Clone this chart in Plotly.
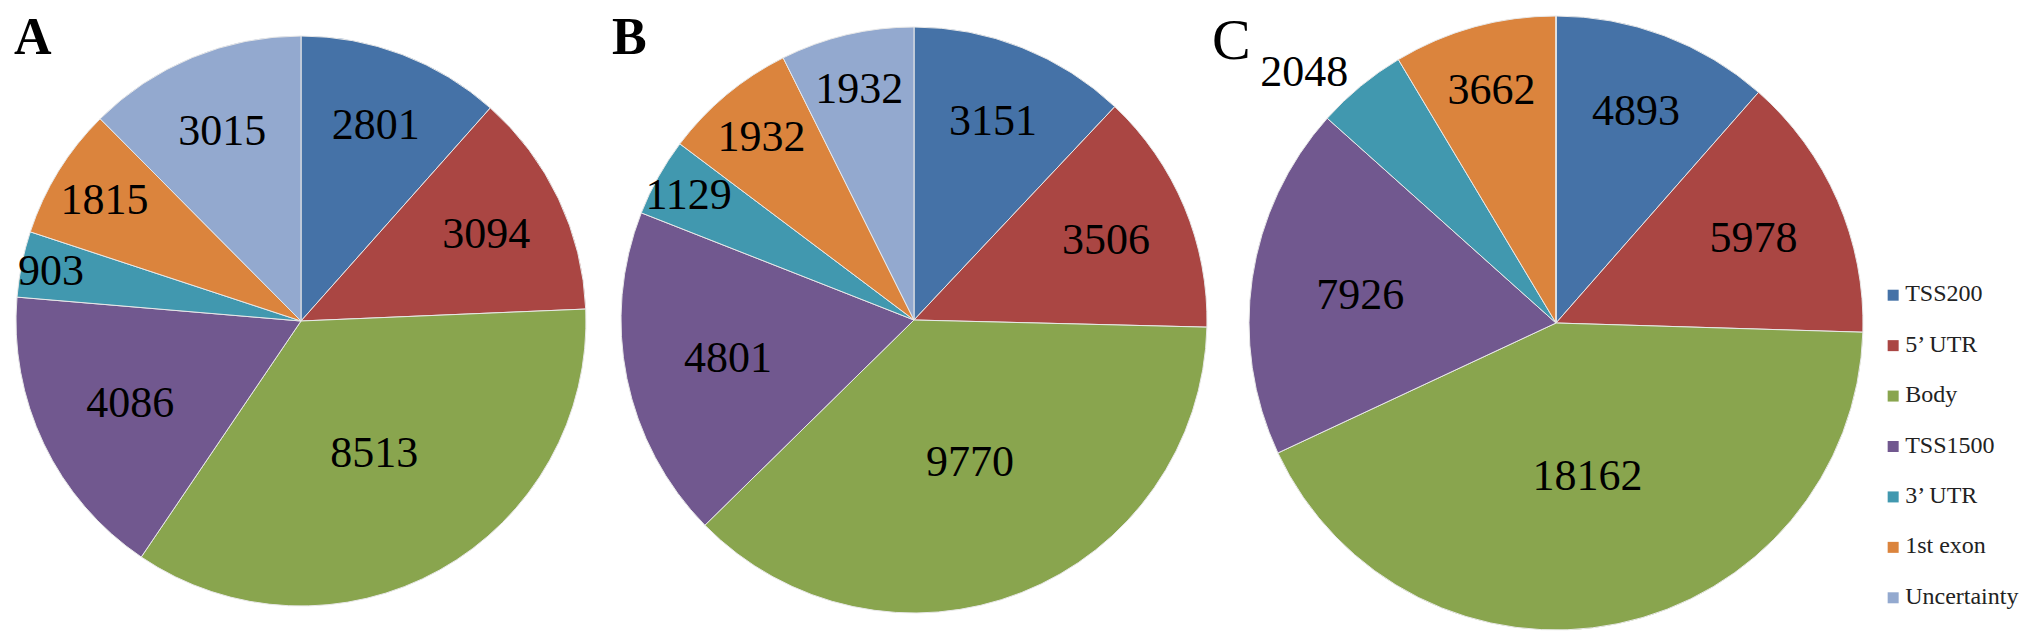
"""Genomic distribution of CpG sites per panel (A, B, C) as three pies."""
import plotly.graph_objects as go

REGIONS = ["TSS200", "5’ UTR", "Body", "TSS1500", "3’ UTR", "1st exon", "Uncertainty"]
COUNTS_A = [2801, 3094, 8513, 4086, 903, 1815, 3015]
COUNTS_B = [3151, 3506, 9770, 4801, 1129, 1932, 1932]
COUNTS_C = [4893, 5978, 18162, 7926, 2048, 3662, 0]
PANELS = ["A", "B", "C"]

COLORS = ["#4572A7", "#AA4643", "#89A54E", "#71588F", "#4198AF", "#DB843D", "#93A9CF"]
W, H = 2031, 639
SERIF = "Liberation Serif"


def dom(cx, cy, r):
    # pixel centre/radius -> paper domain
    return dict(x=[(cx - r) / W, (cx + r) / W], y=[(H - cy - r) / H, (H - cy + r) / H])


fig = go.Figure()
specs = [
    (COUNTS_A, dom(293, 313, 285), ["inside"] * 7),
    (COUNTS_B, dom(906, 312, 293), ["inside"] * 7),
    (COUNTS_C, dom(1548, 315, 307), ["inside"] * 4 + ["outside"] + ["inside"] * 2),
]
for counts, d, pos in specs:
    fig.add_trace(go.Pie(
        labels=REGIONS, values=counts, sort=False, direction="clockwise", rotation=0,
        domain=d, marker=dict(colors=COLORS, line=dict(color="#e8e8e8", width=1)),
        texttemplate=["%{value:.0f}" if v else "" for v in counts],
        textposition=pos, insidetextorientation="horizontal",
        textfont=dict(family=SERIF, size=44, color="black"), showlegend=False,
        hoverinfo="label+value"))

# legend drawn as a small categorical scatter on the right
fig.add_trace(go.Scatter(
    x=[0] * len(REGIONS), y=REGIONS, mode="markers", cliponaxis=False,
    marker=dict(symbol="square", size=11, color=COLORS),
    xaxis="x", yaxis="y", showlegend=False, hoverinfo="skip"))
fig.add_trace(go.Scatter(
    x=[0.7] * len(REGIONS), y=REGIONS, mode="text", text=REGIONS,
    textposition="middle right", cliponaxis=False,
    textfont=dict(family=SERIF, size=24, color="#222"),
    xaxis="x", yaxis="y", showlegend=False, hoverinfo="skip"))

for letter, (x, y, size, bold) in zip(PANELS, [(4, -2, 52, True), (602, -2, 52, True),
                                               (1202, -3, 58, False)]):
    fig.add_annotation(text=f"<b>{letter}</b>" if bold else letter, x=x / W, y=1 - y / H,
                       xref="paper", yref="paper", xanchor="left", yanchor="top",
                       showarrow=False, font=dict(family=SERIF, size=size, color="black"))

fig.update_layout(
    width=W, height=H, margin=dict(l=0, r=0, t=0, b=0),
    paper_bgcolor="white", plot_bgcolor="white",
    uniformtext=dict(mode="show", minsize=44),
    xaxis=dict(domain=[1868 / W, 1.0], range=[-1, 8.5], visible=False),
    yaxis=dict(domain=[(H - 615) / H, (H - 262) / H], type="category",
               categoryorder="array", categoryarray=REGIONS, range=[6.5, -0.5], visible=False),
)
fig.write_html("out.html")
